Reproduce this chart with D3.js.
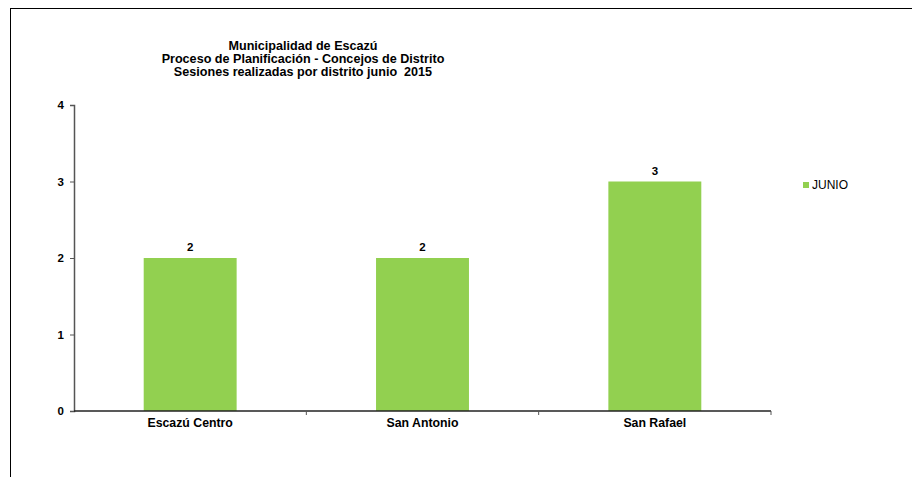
<!DOCTYPE html>
<html>
<head>
<meta charset="utf-8">
<script src="https://cdn.jsdelivr.net/npm/d3@7"></script>
<style>
body { margin: 0; background: #fff; }
text { font-family: Arial, "Liberation Sans", sans-serif; white-space: pre; }
</style>
</head>
<body>
<div id="chart"></div>
<script>
var categories = ['Escazú Centro', 'San Antonio', 'San Rafael'];
var junio = [2, 2, 3];
var yTicks = [0, 1, 2, 3, 4];
var titleLines = ['Municipalidad de Escazú', 'Proceso de Planificación - Concejos de Distrito', 'Sesiones realizadas por distrito junio  2015'];
var seriesName = 'JUNIO';

var width = 912, height = 477;
var svg = d3.select('#chart').append('svg')
    .attr('width', width)
    .attr('height', height);

// frame: top and left edges only
svg.append('line').attr('x1', 10).attr('x2', width).attr('y1', 8.5).attr('y2', 8.5)
    .attr('stroke', '#000').attr('stroke-width', 1);
svg.append('line').attr('x1', 10.5).attr('x2', 10.5).attr('y1', 8).attr('y2', height)
    .attr('stroke', '#000').attr('stroke-width', 1);

var x = d3.scaleBand().domain(categories).range([74, 771]).paddingInner(0.6).paddingOuter(0.3);
var y = d3.scaleLinear().domain([0, 4]).range([411, 105]);

svg.selectAll('rect.bar')
    .data(junio)
    .enter().append('rect')
    .attr('class', 'bar')
    .attr('x', function(d, i) { return x(categories[i]); })
    .attr('y', function(d) { return y(d); })
    .attr('width', x.bandwidth())
    .attr('height', function(d) { return y(0) - y(d); })
    .attr('fill', '#92D050');

svg.selectAll('text.val')
    .data(junio)
    .enter().append('text')
    .attr('class', 'val')
    .attr('x', function(d, i) { return x(categories[i]) + x.bandwidth() / 2; })
    .attr('y', function(d) { return y(d) - 7; })
    .attr('text-anchor', 'middle')
    .attr('font-size', 11.5)
    .attr('font-weight', 'bold')
    .text(function(d) { return d; });

var yAxis = svg.append('g')
    .attr('transform', 'translate(74,0)')
    .call(d3.axisLeft(y).tickValues(yTicks).tickFormat(d3.format('d')).tickSize(4).tickPadding(6));
yAxis.select('.domain').attr('stroke', '#555').attr('stroke-width', 1.5);
yAxis.selectAll('.tick line').attr('stroke', '#555');
yAxis.selectAll('text').attr('font-size', 11.5).attr('font-weight', 'bold')
    .attr('font-family', 'Arial, "Liberation Sans", sans-serif').attr('fill', '#000');

// x axis with ticks on category boundaries
var xAxis = svg.append('g').attr('transform', 'translate(0,411)');
xAxis.append('line').attr('x1', 74).attr('x2', 771).attr('y1', 0).attr('y2', 0)
    .attr('stroke', '#222').attr('stroke-width', 1.5);
var step = x.step();
var bounds = categories.map(function(c) { return x(c) + x.bandwidth() / 2 + step / 2; });
xAxis.selectAll('line.tk').data(bounds).enter().append('line')
    .attr('class', 'tk')
    .attr('x1', function(d) { return d; }).attr('x2', function(d) { return d; })
    .attr('y1', 0).attr('y2', 4).attr('stroke', '#555');
xAxis.selectAll('text').data(categories).enter().append('text')
    .attr('x', function(d) { return x(d) + x.bandwidth() / 2; })
    .attr('y', 16)
    .attr('text-anchor', 'middle')
    .attr('font-size', 12.3)
    .attr('font-weight', 'bold')
    .text(function(d) { return d; });

// title
svg.append('text')
    .attr('x', 303).attr('y', 50)
    .attr('text-anchor', 'middle')
    .attr('font-size', 12.6)
    .attr('font-weight', 'bold')
    .selectAll('tspan').data(titleLines).enter().append('tspan')
    .attr('x', 303)
    .attr('dy', function(d, i) { return i === 0 ? 0 : 13; })
    .text(function(d) { return d; });

// legend
svg.append('rect').attr('x', 803).attr('y', 182).attr('width', 6).attr('height', 6).attr('fill', '#92D050');
svg.append('text').attr('x', 812).attr('y', 189).attr('font-size', 12).text(seriesName);
</script>
</body>
</html>
